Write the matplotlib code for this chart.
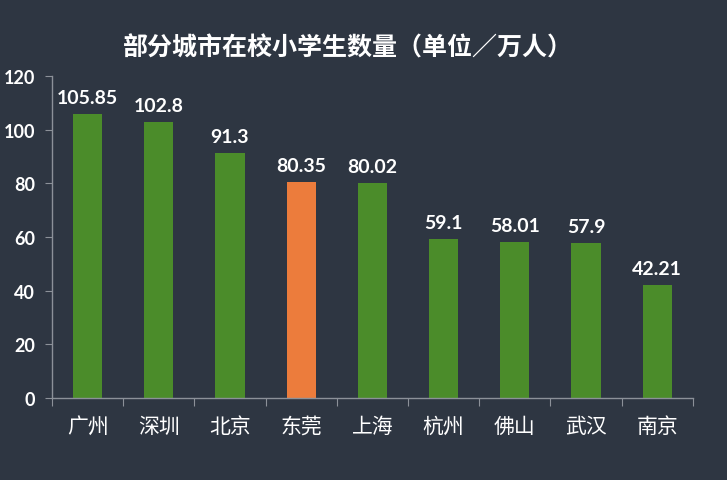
import matplotlib
matplotlib.use("Agg")
import matplotlib.pyplot as plt

cities = ["广州", "深圳", "北京", "东莞", "上海", "杭州", "佛山", "武汉", "南京"]
values = [105.85, 102.8, 91.3, 80.35, 80.02, 59.1, 58.01, 57.9, 42.21]
value_labels = ["105.85", "102.8", "91.3", "80.35", "80.02", "59.1", "58.01", "57.9", "42.21"]
highlight = "东莞"
yticks = [0, 20, 40, 60, 80, 100, 120]
title = "部分城市在校小学生数量（单位／万人）"

bg = "#2e3642"
green = "#4b8c2a"
orange = "#ec7c3c"
axis_c = "#8c9199"

plt.rcParams['font.family'] = ['Noto Sans CJK SC', 'DejaVu Sans']

fig = plt.figure(figsize=(7.27, 4.81), dpi=100, facecolor=bg)
ax = fig.add_axes([0.0715, 0.1705, 0.8815, 0.6695])
ax.set_facecolor(bg)

x = list(range(len(cities)))
colors = [orange if c == highlight else green for c in cities]
ax.bar(x, values, width=0.41, color=colors, zorder=2)

for xi, v, lab in zip(x, values, value_labels):
    ax.text(xi, v + 3, lab, ha="center", va="bottom", color="white",
            fontsize=14, family=["Lato", "DejaVu Sans"], fontweight="bold")

ax.set_xlim(-0.5, len(cities) - 0.5)
ax.set_ylim(0, 120)
ax.set_yticks(yticks)
ax.set_yticklabels([str(t) for t in yticks], color="white", fontsize=13,
                   family=["Lato", "DejaVu Sans"], fontweight="bold")
ax.set_xticks([i - 0.5 for i in range(len(cities) + 1)], minor=False)
ax.set_xticklabels([])
ax.set_xticks(x, minor=True)
ax.set_xticklabels(cities, minor=True, color="white", fontsize=15)
ax.tick_params(axis="x", which="minor", length=0, pad=12)
ax.tick_params(axis="x", which="major", length=6, color=axis_c, direction="out")
ax.tick_params(axis="y", length=5, color=axis_c, direction="out", pad=7)

for s in ["top", "right"]:
    ax.spines[s].set_visible(False)
for s in ["left", "bottom"]:
    ax.spines[s].set_color(axis_c)
    ax.spines[s].set_linewidth(1.0)

fig.text(0.478, 0.9, title, ha="center", va="center", color="white",
         fontsize=18, fontweight="bold")

fig.savefig("out.png", dpi=100, facecolor=bg)
